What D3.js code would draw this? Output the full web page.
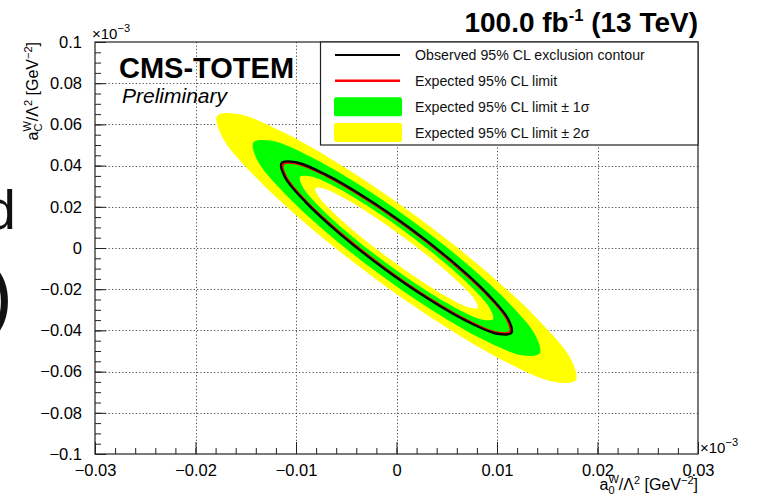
<!DOCTYPE html>
<html>
<head>
<meta charset="utf-8">
<script src="https://cdn.jsdelivr.net/npm/d3@7"></script>
<style>
  body { margin: 0; background: #fff; }
  svg { display: block; font-family: "Liberation Sans", Arial, Helvetica, sans-serif; }
</style>
</head>
<body>
<svg id="chart"></svg>
<script>
// axis ticks (values shown in units of 10^-3, as on the plot)
const xTicks = [-0.03, -0.02, -0.01, 0, 0.01, 0.02, 0.03];
const xTickLabels = ["\u22120.03", "\u22120.02", "\u22120.01", "0", "0.01", "0.02", "0.03"];
const yTicks = [-0.1, -0.08, -0.06, -0.04, -0.02, 0, 0.02, 0.04, 0.06, 0.08, 0.1];
const yTickLabels = ["\u22120.1", "\u22120.08", "\u22120.06", "\u22120.04", "\u22120.02", "0", "0.02", "0.04", "0.06", "0.08", "0.1"];

const legendLabels = [
  "Observed 95% CL exclusion contour",
  "Expected 95% CL limit",
  "Expected 95% CL limit \u00b1 1\u03c3",
  "Expected 95% CL limit \u00b1 2\u03c3"
];

// contours: [a0, aC]
const contourPlus2 = [
  [0.01784, -0.06423], [0.01564, -0.06490], [0.01105, -0.05569], [0.00479, -0.03800],
  [-0.00221, -0.01452], [-0.00887, 0.01117], [-0.01417, 0.03515], [-0.01733, 0.05379],
  [-0.01784, 0.06423], [-0.01564, 0.06490], [-0.01105, 0.05569], [-0.00479, 0.03800],
  [0.00221, 0.01452], [0.00887, -0.01117], [0.01417, -0.03515], [0.01733, -0.05379]
];
const contourPlus1 = [
  [0.01424, -0.05127], [0.01245, -0.05202], [0.00876, -0.04484], [0.00374, -0.03084],
  [-0.00185, -0.01215], [-0.00716, 0.00840], [-0.01137, 0.02767], [-0.01386, 0.04272],
  [-0.01424, 0.05127], [-0.01245, 0.05202], [-0.00876, 0.04484], [-0.00374, 0.03084],
  [0.00185, 0.01215], [0.00716, -0.00840], [0.01137, -0.02767], [0.01386, -0.04272]
];
const contourObserved = [
  [0.01144, -0.04119], [0.01002, -0.04163], [0.00708, -0.03573], [0.00307, -0.02440],
  [-0.00142, -0.00934], [-0.00569, 0.00713], [-0.00909, 0.02252], [-0.01111, 0.03448],
  [-0.01144, 0.04119], [-0.01002, 0.04163], [-0.00708, 0.03573], [-0.00307, 0.02440],
  [0.00142, 0.00934], [0.00569, -0.00713], [0.00909, -0.02252], [0.01111, -0.03448]
];
const contourExpected = [
  [0.01128, -0.04061], [0.00990, -0.04095], [0.00701, -0.03505], [0.00306, -0.02382],
  [-0.00136, -0.00895], [-0.00557, 0.00727], [-0.00894, 0.02239], [-0.01094, 0.03410],
  [-0.01128, 0.04061], [-0.00990, 0.04095], [-0.00701, 0.03505], [-0.00306, 0.02382],
  [0.00136, 0.00895], [0.00557, -0.00727], [0.00894, -0.02239], [0.01094, -0.03410]
];
const contourMinus1 = [
  [0.00960, -0.03457], [0.00846, -0.03465], [0.00603, -0.02945], [0.00268, -0.01977],
  [-0.00108, -0.00709], [-0.00467, 0.00668], [-0.00755, 0.01943], [-0.00928, 0.02922],
  [-0.00960, 0.03457], [-0.00846, 0.03465], [-0.00603, 0.02945], [-0.00268, 0.01977],
  [0.00108, 0.00709], [0.00467, -0.00668], [0.00755, -0.01943], [0.00928, -0.02922]
];
const contourMinus2 = [
  [0.00808, -0.02909], [0.00717, -0.02880], [0.00517, -0.02412], [0.00239, -0.01577],
  [-0.00076, -0.00502], [-0.00380, 0.00649], [-0.00625, 0.01702], [-0.00776, 0.02496],
  [-0.00808, 0.02909], [-0.00717, 0.02880], [-0.00517, 0.02412], [-0.00239, 0.01577],
  [0.00076, 0.00502], [0.00380, -0.00649], [0.00625, -0.01702], [0.00776, -0.02496]
];

const W = 763;
const H = 502;
const FONT = '"Liberation Sans", Arial, Helvetica, sans-serif';
const YELLOW = "#ffff00";
const GREEN = "#00ff00";

const svg = d3.select("#chart").attr("width", W).attr("height", H);
svg.append("rect").attr("width", W).attr("height", H).attr("fill", "#fff");

const frame = { left: 95, right: 698, top: 42, bottom: 454 };

const x = d3.scaleLinear().domain([-0.03, 0.03]).range([frame.left, frame.right]);
const y = d3.scaleLinear().domain([-0.1, 0.1]).range([frame.bottom, frame.top]);

// slide text cut off at the left edge
svg.append("text").attr("x", 16).attr("y", 229).attr("text-anchor", "end")
   .attr("font-size", 56).attr("fill", "#111").text("d");
svg.append("text").attr("x", 13).attr("y", 322).attr("text-anchor", "end")
   .attr("font-size", 80).attr("fill", "#111").text(")");

// dotted grid
const grid = svg.append("g")
    .attr("stroke", "#555").attr("stroke-width", 1).attr("stroke-dasharray", "1.3,2.1");
grid.selectAll(".gx").data(xTicks.slice(1, -1)).join("line")
    .attr("x1", d => Math.round(x(d)) + 0.5).attr("x2", d => Math.round(x(d)) + 0.5)
    .attr("y1", frame.top).attr("y2", frame.bottom);
grid.selectAll(".gy").data(yTicks.slice(1, -1)).join("line")
    .attr("y1", d => Math.round(y(d)) + 0.5).attr("y2", d => Math.round(y(d)) + 0.5)
    .attr("x1", frame.left).attr("x2", frame.right);

// bands and contours
const contour = d3.line()
    .x(d => x(d[0])).y(d => y(d[1]))
    .curve(d3.curveCatmullRomClosed);

svg.append("path")
   .attr("d", contour(contourPlus2) + contour(contourMinus2))
   .attr("fill", YELLOW).attr("fill-rule", "evenodd");
svg.append("path")
   .attr("d", contour(contourPlus1) + contour(contourMinus1))
   .attr("fill", GREEN).attr("fill-rule", "evenodd");
svg.append("path").attr("d", contour(contourExpected))
   .attr("fill", "none").attr("stroke", "#ff0000").attr("stroke-width", 2);
svg.append("path").attr("d", contour(contourObserved))
   .attr("fill", "none").attr("stroke", "#000").attr("stroke-width", 2.3);

// axes, ROOT style: ticks pointing inwards
function styleAxis(g) {
  g.select(".domain").remove();
  g.attr("font-family", FONT).attr("font-size", 16.5);
  g.selectAll("text").attr("fill", "#000");
  g.selectAll("line").attr("stroke", "#222").attr("stroke-width", 1);
}

const xMinor = x.ticks(30);
const yMinor = y.ticks(50);

svg.append("g").attr("transform", `translate(0,${frame.bottom})`)
   .call(d3.axisBottom(x).tickValues(xMinor).tickSize(-6).tickFormat(""))
   .call(styleAxis);
svg.append("g").attr("transform", `translate(0,${frame.bottom})`)
   .call(d3.axisBottom(x).tickValues(xTicks).tickSize(-12).tickPadding(10.5)
         .tickFormat((d, i) => xTickLabels[i]))
   .call(styleAxis);

svg.append("g").attr("transform", `translate(${frame.left},0)`)
   .call(d3.axisLeft(y).tickValues(yMinor).tickSize(-6).tickFormat(""))
   .call(styleAxis);
svg.append("g").attr("transform", `translate(${frame.left},0)`)
   .call(d3.axisLeft(y).tickValues(yTicks).tickSize(-11).tickPadding(13)
         .tickFormat((d, i) => yTickLabels[i]))
   .call(styleAxis);

// frame
svg.append("rect")
   .attr("x", frame.left).attr("y", frame.top)
   .attr("width", frame.right - frame.left).attr("height", frame.bottom - frame.top)
   .attr("fill", "none").attr("stroke", "#222").attr("stroke-width", 1.2);

// x10^-3 exponents
function exponent(px, py) {
  const t = svg.append("text").attr("x", px).attr("y", py).attr("font-size", 15);
  t.append("tspan").text("\u00d710");
  t.append("tspan").attr("font-size", 11).attr("dy", -7).text("\u22123");
}
exponent(92, 39);
exponent(700, 453);

// axis titles
function axisTitle(t, sub, subW) {
  t.append("tspan").text("a");
  t.append("tspan").attr("font-size", 11).attr("dy", 4).text(sub);
  t.append("tspan").attr("font-size", 11).attr("dx", -subW).attr("dy", -11).text("W");
  t.append("tspan").attr("dy", 7).text("/\u039b");
  t.append("tspan").attr("font-size", 11).attr("dy", -6).text("2");
  t.append("tspan").attr("dy", 6).text(" [GeV");
  t.append("tspan").attr("font-size", 11).attr("dy", -6).text("\u22122");
  t.append("tspan").attr("dy", 6).text("]");
}
const xTitle = svg.append("text").attr("x", frame.right).attr("y", 490)
    .attr("text-anchor", "end").attr("font-size", 16);
axisTitle(xTitle, "0", 6.1);
const yTitle = svg.append("text")
    .attr("transform", `translate(38,${frame.top}) rotate(-90)`)
    .attr("text-anchor", "end").attr("font-size", 16);
axisTitle(yTitle, "C", 7.9);

// top right luminosity
const lumi = svg.append("text").attr("x", frame.right).attr("y", 32)
    .attr("text-anchor", "end").attr("font-size", 28).attr("font-weight", "bold");
lumi.append("tspan").text("100.0 fb");
lumi.append("tspan").attr("font-size", 16.5).attr("dy", -11).text("-1");
lumi.append("tspan").attr("dy", 11).text(" (13 TeV)");

// experiment label
svg.append("text").attr("x", 119).attr("y", 78)
   .attr("font-size", 29).attr("font-weight", "bold").text("CMS-TOTEM");
svg.append("text").attr("x", 122).attr("y", 102.5)
   .attr("font-size", 21).attr("font-style", "italic").text("Preliminary");

// legend
const legend = svg.append("g");
legend.append("rect")
   .attr("x", 320.5).attr("y", frame.top).attr("width", frame.right - 320.5).attr("height", 103)
   .attr("fill", "#fff").attr("stroke", "#222").attr("stroke-width", 1.2);

const rowY = d3.scalePoint().domain(legendLabels).range([55, 132.5]);

legend.append("line")
   .attr("x1", 335).attr("x2", 400)
   .attr("y1", rowY(legendLabels[0])).attr("y2", rowY(legendLabels[0]))
   .attr("stroke", "#000").attr("stroke-width", 2);
legend.append("line")
   .attr("x1", 335).attr("x2", 400)
   .attr("y1", rowY(legendLabels[1])).attr("y2", rowY(legendLabels[1]))
   .attr("stroke", "#ff0000").attr("stroke-width", 2.5);
legend.append("rect")
   .attr("x", 334).attr("y", rowY(legendLabels[2]) - 9.5).attr("width", 68).attr("height", 19)
   .attr("rx", 2).attr("fill", GREEN);
legend.append("rect")
   .attr("x", 334).attr("y", rowY(legendLabels[3]) - 9.5).attr("width", 68).attr("height", 19)
   .attr("rx", 2).attr("fill", YELLOW);

legend.selectAll(".ltext").data(legendLabels).join("text")
   .attr("x", 415).attr("y", d => rowY(d) + 5)
   .attr("font-size", 14.2).attr("fill", "#111")
   .text(d => d);
</script>
</body>
</html>
